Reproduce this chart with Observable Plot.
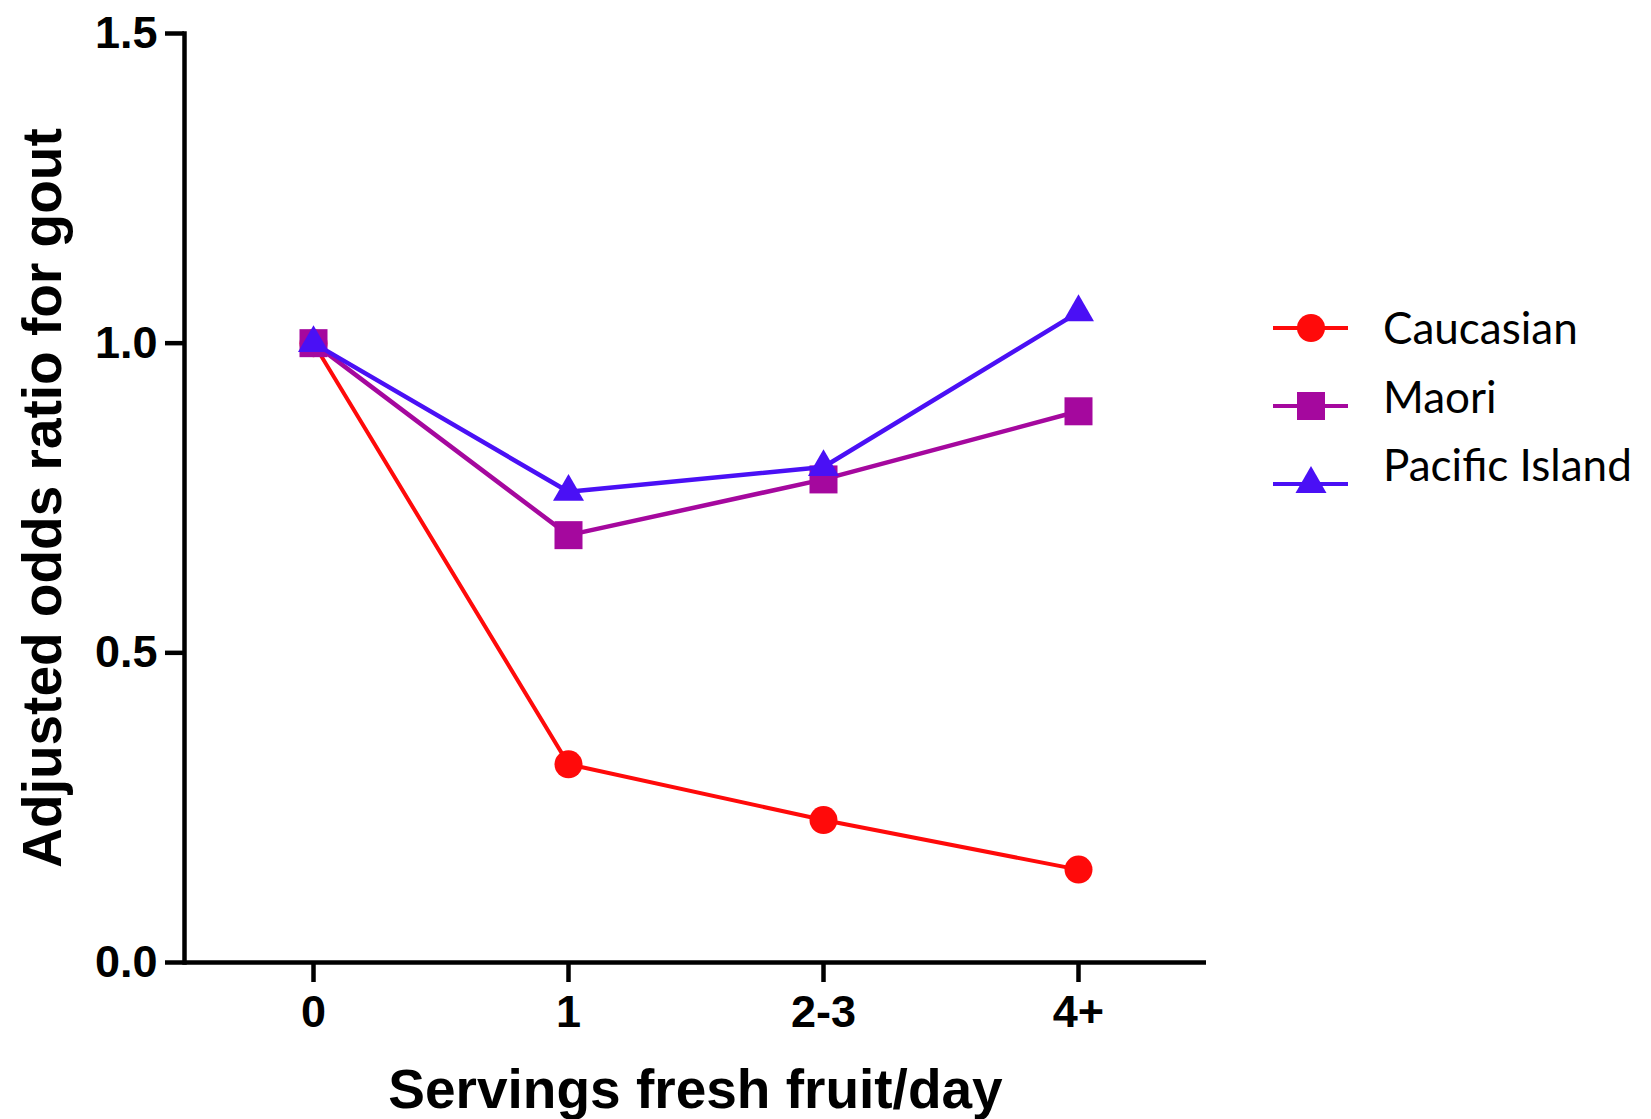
<!DOCTYPE html>
<html>
<head>
<meta charset="utf-8">
<script src="https://cdn.jsdelivr.net/npm/d3@7"></script>
<script src="https://cdn.jsdelivr.net/npm/@observablehq/plot@0.6"></script>
<style>
  html, body { margin: 0; padding: 0; background: #fff; }
  #chart { position: relative; width: 1651px; height: 1119px; }
  #legend { position: absolute; left: 1260px; top: 290px; }
</style>
</head>
<body>
<div id="chart"></div>
<script>
// Servings of fresh fruit per day (x categories)
const categories = ["0", "1", "2-3", "4+"];

// Adjusted odds ratio for gout, one array per ancestry group
const caucasian = [1.0, 0.32, 0.23, 0.15];
const maori = [1.0, 0.69, 0.78, 0.89];
const pacificIsland = [1.0, 0.76, 0.80, 1.05];

const seriesNames = ["Caucasian", "Maori", "Pacific Island"];
const seriesColors = ["#ff0a0a", "#a5089e", "#4a10f5"];
const seriesSymbols = ["circle", "square", "triangle"];

const yTicks = [0, 0.5, 1.0, 1.5];
const xTitle = "Servings fresh fruit/day";
const yTitle = "Adjusted odds ratio for gout";

// Long-format table built from the arrays above
const seriesValues = [caucasian, maori, pacificIsland];
const rows = seriesNames.flatMap((name, i) =>
  categories.map((c, j) => ({series: name, servings: c, odds: seriesValues[i][j]}))
);

// Marker radius per symbol (equal-area sizing), line widths per series
const markerR = {circle: 14, square: 15.8, triangle: 11.5};
const lineW = [4, 4.5, 4.5];
const axisW = 4.5;

// Each group: its connecting line, then its markers on top
const seriesMarks = seriesNames.flatMap((name, i) => {
  const data = rows.filter(d => d.series === name);
  return [
    Plot.line(data, {x: "servings", y: "odds", stroke: "series", strokeWidth: lineW[i]}),
    Plot.dot(data, {x: "servings", y: "odds", fill: "series", symbol: "series", r: markerR[seriesSymbols[i]]})
  ];
});

const chart = Plot.plot({
  width: 1651,
  height: 1119,
  marginLeft: 184,
  marginRight: 445,
  marginTop: 33,
  marginBottom: 157,
  style: {fontFamily: "'Liberation Sans', Arial, sans-serif", fontWeight: "bold", background: "#fff", color: "#000"},
  x: {type: "point", domain: categories, padding: 0.5},
  y: {domain: [0, 1.5]},
  color: {domain: seriesNames, range: seriesColors},
  symbol: {domain: seriesNames, range: seriesSymbols},
  marks: [
    Plot.frame({anchor: "left", strokeWidth: axisW}),
    Plot.ruleY([0], {strokeWidth: axisW}),
    Plot.axisY({ticks: yTicks, tickFormat: d3.format(".1f"), tickSize: 19, tickPadding: 8,
      fontSize: 45, strokeWidth: axisW, label: null}),
    Plot.axisY({ticks: [], label: yTitle, labelAnchor: "center", labelArrow: "none",
      labelOffset: 163, fontSize: 55}),
    Plot.axisX({tickSize: 20, tickPadding: 13, fontSize: 45, strokeWidth: axisW, label: null}),
    Plot.axisX({ticks: [], label: xTitle, labelAnchor: "center", labelArrow: "none",
      labelOffset: 145, fontSize: 55}),
    ...seriesMarks
  ]
});

const container = document.getElementById("chart");
container.appendChild(chart);

// Legend: line segment with the series symbol, then the series name
const symbolTypes = {circle: d3.symbolCircle, square: d3.symbolSquare, triangle: d3.symbolTriangle};
const legend = d3.create("svg")
  .attr("id", "legend")
  .attr("width", 391)
  .attr("height", 230);

const symbolStep = 78;
const textStep = 68.5;
seriesNames.forEach((name, i) => {
  const cy = 38 + i * symbolStep;
  const g = legend.append("g");
  g.append("line")
    .attr("x1", 13).attr("x2", 88)
    .attr("y1", cy).attr("y2", cy)
    .attr("stroke", seriesColors[i])
    .attr("stroke-width", 4);
  const r = markerR[seriesSymbols[i]];
  g.append("path")
    .attr("transform", `translate(51,${cy})`)
    .attr("d", d3.symbol(symbolTypes[seriesSymbols[i]], Math.PI * r * r)())
    .attr("fill", seriesColors[i]);
  g.append("text")
    .attr("x", 123)
    .attr("y", 54 + i * textStep)
    .attr("font-family", "Lato, 'Open Sans', sans-serif")
    .attr("font-size", 44)
    .attr("fill", "#000")
    .text(name);
});

container.appendChild(legend.node());
</script>
</body>
</html>
